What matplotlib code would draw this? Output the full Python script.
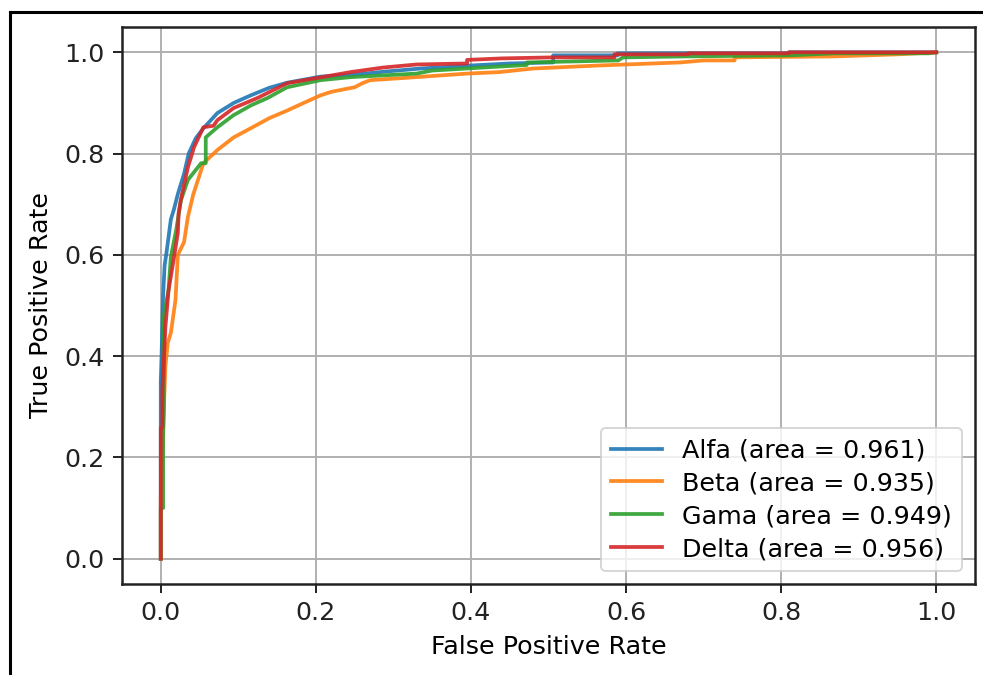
import matplotlib
matplotlib.use('Agg')
import matplotlib.pyplot as plt
from matplotlib.lines import Line2D

# ROC points (fpr, tpr)
alfa_fpr = [0, 0, 0.001, 0.003, 0.005, 0.007, 0.013, 0.017, 0.022, 0.030, 0.036, 0.045, 0.055,
            0.073, 0.094, 0.116, 0.14, 0.163, 0.206, 0.25, 0.29, 0.335, 0.40, 0.45, 0.506, 0.506,
            0.589, 0.589, 0.81, 0.81, 1.0]
alfa_tpr = [0, 0.35, 0.40, 0.52, 0.58, 0.60, 0.67, 0.69, 0.72, 0.76, 0.80, 0.83, 0.85,
            0.88, 0.90, 0.915, 0.93, 0.94, 0.952, 0.956, 0.962, 0.968, 0.974, 0.978, 0.980, 0.994,
            0.994, 0.998, 0.998, 1.0, 1.0]

beta_fpr = [0, 0, 0.003, 0.004, 0.006, 0.009, 0.013, 0.019, 0.022, 0.030, 0.035, 0.042, 0.055,
            0.073, 0.094, 0.116, 0.14, 0.163, 0.18, 0.206, 0.22, 0.25, 0.26, 0.27, 0.31, 0.395,
            0.437, 0.48, 0.565, 0.67, 0.70, 0.74, 0.74, 0.87, 0.95, 1.0]
beta_tpr = [0, 0.12, 0.25, 0.30, 0.38, 0.426, 0.446, 0.511, 0.60, 0.625, 0.675, 0.72, 0.781,
            0.807, 0.832, 0.85, 0.87, 0.885, 0.897, 0.915, 0.922, 0.931, 0.939, 0.945, 0.949, 0.958,
            0.961, 0.968, 0.974, 0.980, 0.984, 0.984, 0.99, 0.992, 0.996, 1.0]

gama_fpr = [0, 0, 0.003, 0.003, 0.004, 0.004, 0.010, 0.013, 0.020, 0.026, 0.035, 0.052, 0.058,
            0.058, 0.073, 0.094, 0.116, 0.138, 0.163, 0.206, 0.245, 0.33, 0.35, 0.416, 0.472,
            0.472, 0.59, 0.596, 0.68, 0.81, 0.87, 0.99, 1.0]
gama_tpr = [0, 0.10, 0.10, 0.24, 0.30, 0.48, 0.53, 0.596, 0.65, 0.708, 0.748, 0.781, 0.781,
            0.832, 0.852, 0.876, 0.895, 0.91, 0.931, 0.945, 0.951, 0.958, 0.964, 0.970, 0.975,
            0.98, 0.984, 0.99, 0.992, 0.994, 0.998, 0.998, 1.0]

delta_fpr = [0, 0, 0.002, 0.002, 0.006, 0.010, 0.015, 0.022, 0.023, 0.026, 0.035, 0.043, 0.055,
             0.068, 0.073, 0.094, 0.125, 0.163, 0.245, 0.287, 0.33, 0.395, 0.395, 0.44, 0.506,
             0.585, 0.585, 0.68, 0.68, 0.81, 0.81, 1.0]
delta_tpr = [0, 0.258, 0.26, 0.33, 0.458, 0.53, 0.576, 0.643, 0.682, 0.71, 0.773, 0.813, 0.852,
             0.855, 0.866, 0.89, 0.91, 0.939, 0.961, 0.97, 0.976, 0.978, 0.985, 0.988, 0.99,
             0.99, 0.996, 0.996, 0.998, 0.998, 1.0, 1.0]

names = ['Alfa', 'Beta', 'Gama', 'Delta']
aucs = [0.961, 0.935, 0.949, 0.956]
curves = [(alfa_fpr, alfa_tpr), (beta_fpr, beta_tpr), (gama_fpr, gama_tpr), (delta_fpr, delta_tpr)]
colors = ['#1f77b4', '#ff7f0e', '#2ca02c', '#d62728']

fs = 18.3
fig = plt.figure(figsize=(9.83, 6.75), dpi=100)
ax = fig.add_axes([122 / 983, 1 - 584 / 675, (975 - 122) / 983, (584 - 27) / 675])

for (fpr, tpr), name, auc, c in zip(curves, names, aucs, colors):
    ax.plot(fpr, tpr, color=c, lw=2.7, alpha=0.9, label=f'{name} (area = {auc:.3f})')

ax.set_xlim(-0.05, 1.05)
ax.set_ylim(-0.05, 1.05)
ax.set_xlabel('False Positive Rate', fontsize=fs, labelpad=7)
ax.set_ylabel('True Positive Rate', fontsize=fs, labelpad=8)
ax.tick_params(labelsize=fs, length=6.5, width=1.4, pad=6, colors='#222222')
ax.grid(True, color='#b0b0b0', lw=1.4)
ax.set_axisbelow(True)
for s in ax.spines.values():
    s.set_linewidth(1.8)
    s.set_color('#222222')

leg = ax.legend(loc='lower right', fontsize=fs, handlelength=2.0, borderpad=0.4,
                labelspacing=0.35, handletextpad=0.8, borderaxespad=0.5)
leg.get_frame().set_linewidth(1.4)

# border of the screenshot (left and top only)
W, H = 983, 675
fig.add_artist(Line2D([9.5 / W, 9.5 / W], [0, 1 - 11.5 / H], transform=fig.transFigure,
                      color='black', lw=2.2))
fig.add_artist(Line2D([9.5 / W, 1], [1 - 11.5 / H, 1 - 11.5 / H], transform=fig.transFigure,
                      color='black', lw=2.2))

fig.savefig('out.png', dpi=100)
